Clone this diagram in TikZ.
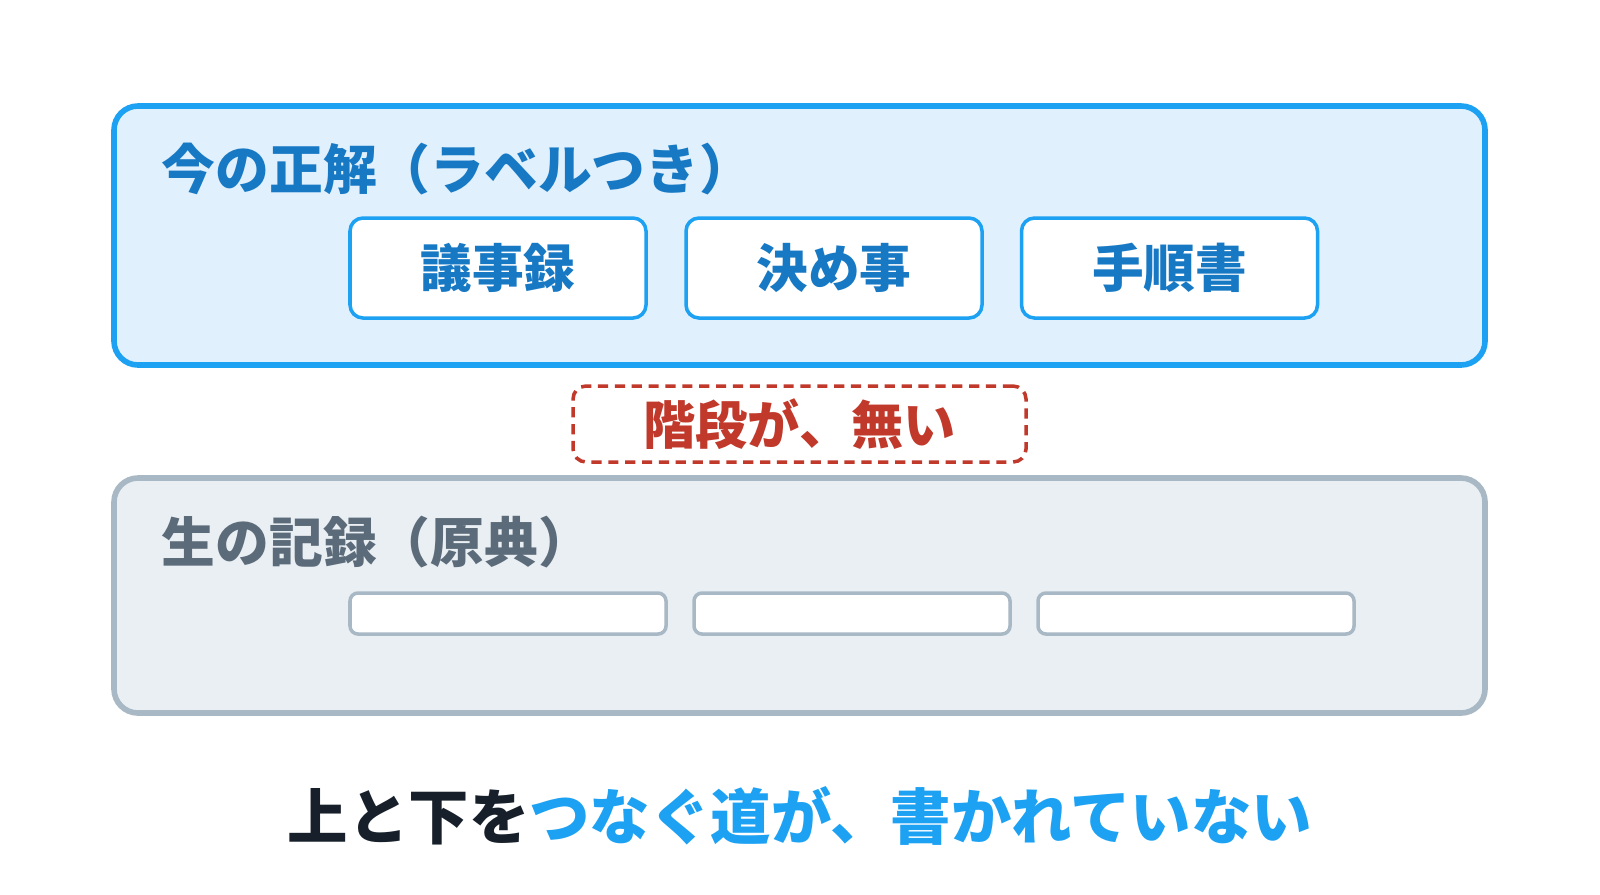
\documentclass[tikz,border=0pt]{standalone}
\usepackage{fontspec}
\setmainfont{Noto Sans CJK JP}
\usetikzlibrary{positioning}

\definecolor{skyline}{HTML}{1DA1F2}
\definecolor{skyfill}{HTML}{E0F0FD}
\definecolor{skyink}{HTML}{1779C4}
\definecolor{ashline}{HTML}{A9B8C5}
\definecolor{ashfill}{HTML}{EAEFF3}
\definecolor{ashink}{HTML}{5B6B79}
\definecolor{gapred}{HTML}{C0392B}
\definecolor{nightink}{HTML}{17202A}

\tikzset{
    panel/.style={draw, line width=1.6pt, rounded corners=0.24cm, inner sep=0pt,
        minimum width=13.71cm},
    heading/.style={anchor=west, inner sep=0pt, font=\fontsize{15.3}{18}\selectfont\bfseries},
    tag/.style={draw=skyline, fill=white, line width=1pt, rounded corners=0.13cm,
        minimum width=2.96cm, minimum height=1.0cm, text=skyink,
        font=\fontsize{14.7}{17}\selectfont\bfseries},
    slot/.style={draw=ashline, fill=white, line width=1pt, rounded corners=0.08cm,
        minimum width=3.16cm, minimum height=0.41cm, inner sep=0pt}
}

\begin{document}
\begin{tikzpicture}
    \useasboundingbox (0,0) rectangle (16,-8.94);

    % Upper panel with labelled things
    \node[panel, draw=skyline, fill=skyfill, minimum height=2.59cm]
        (Labelled) at (7.995,-2.355) {};
    \node[heading, text=skyink] (LabelledTitle) at (1.61,-1.69) {今の正解（ラベルつき）};

    \foreach \name/\x/\txt in {Minutes/4.98/議事録,Rules/8.34/決め事,Manual/11.695/手順書}
    {
        \node[tag] (\name) at (\x,-2.68) {\txt};
    }

    % The missing stair
    \node[draw=gapred, line width=1pt, dash pattern=on 2.9pt off 1.9pt, rounded corners=0.13cm,
        minimum width=4.53cm, minimum height=0.76cm, text=gapred,
        font=\fontsize{14.85}{17}\selectfont\bfseries] (NoStair) at (7.995,-4.24) {階段が、無い};

    % Lower panel with raw records
    \node[panel, draw=ashline, fill=ashfill, minimum height=2.35cm]
        (Raw) at (7.995,-5.955) {};
    \node[heading, text=ashink] (RawTitle) at (1.61,-5.42) {生の記録（原典）};

    \foreach \name/\x in {RawA/5.08,RawB/8.52,RawC/11.96}
    {
        \node[slot] (\name) at (\x,-6.135) {};
    }

    % Closing line
    \node[inner sep=0pt, font=\fontsize{17.2}{20}\selectfont\bfseries] (Moral) at (8.0,-8.16)
        {\textcolor{nightink}{上と下を}\textcolor{skyline}{つなぐ道が、書かれていない}};
\end{tikzpicture}
\end{document}
